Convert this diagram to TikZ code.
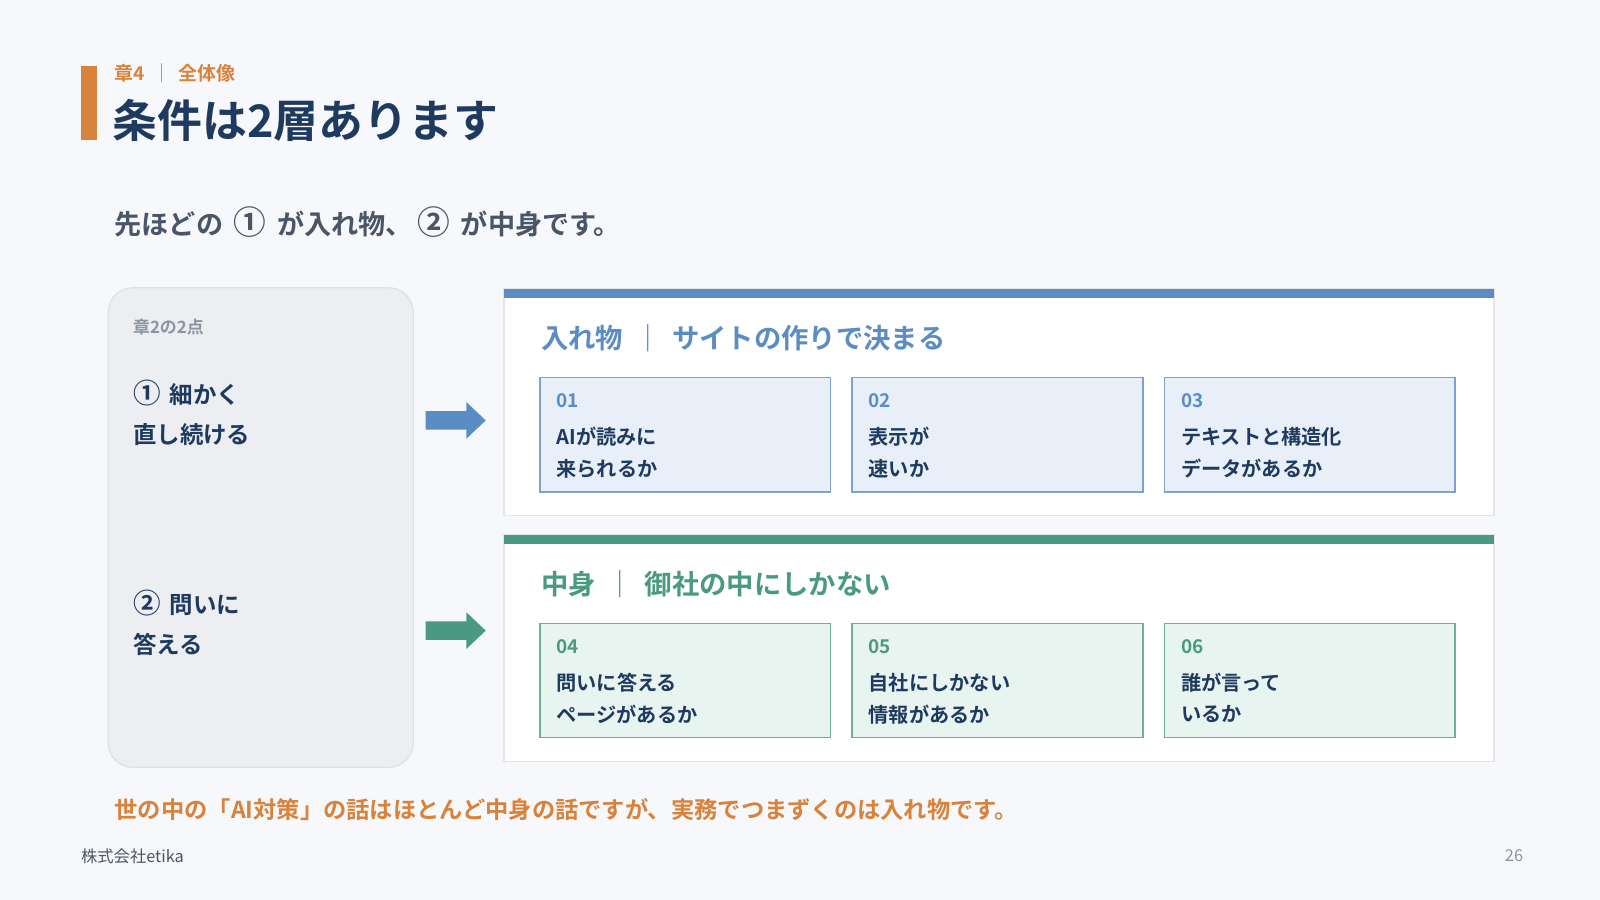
\documentclass[tikz,border=0pt]{standalone}
\usepackage{fontspec}
\setmainfont{Noto Sans CJK JP}[BoldFont={Noto Sans CJK JP Bold}]
\definecolor{bg}{HTML}{F6F8FB}
\definecolor{navy}{HTML}{1F3A5F}
\definecolor{org}{HTML}{D9823B}
\definecolor{gry}{HTML}{4A5568}
\definecolor{lgry}{HTML}{8A94A3}
\definecolor{blu}{HTML}{5B8CC4}
\definecolor{grn}{HTML}{4A9A82}
\definecolor{bfill}{HTML}{E8EFF8}
\definecolor{gfill}{HTML}{E8F4F0}
\newcommand{\cn}[1]{\,{\fontsize{16}{16}\selectfont #1}\,}
\newcommand{\cnl}[1]{{\fontsize{13.5}{13}\selectfont #1}\,}
\tikzset{
 t/.style={anchor=west,inner sep=0pt,font=\bfseries},
 card/.style={draw=#1!80!white,line width=0.7pt},
}
\begin{document}
\begin{tikzpicture}[x=0.5pt,y=-0.5pt]
\fill[bg] (0,0) rectangle (1568,882);
\useasboundingbox (0,0) rectangle (1568,882);
\fill[org] (79,65) rectangle (95,137);
\node[t,text=org,font=\fontsize{9.3}{11}\selectfont\bfseries] (ch) at (112,72) {章4 \,｜\, 全体像};
\node[t,text=navy,font=\fontsize{22}{26}\selectfont\bfseries] (ti) at (110,118) {条件は2層あります};
\node[t,text=gry,font=\fontsize{13.3}{15}\selectfont\bfseries] (st) at (112,218) {先ほどの \cn{①} が入れ物、\cn{②} が中身です。};
% left panel
\draw[fill=black!4!bg,draw=black!12,line width=0.6pt,rounded corners=12pt] (106,282) rectangle (405,752);
\node[t,text=lgry,font=\fontsize{8.3}{10}\selectfont\bfseries] (lp) at (130,321) {章2の2点};
\node[t,text=navy,font=\fontsize{11.5}{13}\selectfont\bfseries] (l1) at (130,385) {\cnl{①} 細かく};
\node[t,text=navy,font=\fontsize{11.5}{13}\selectfont\bfseries] (l2) at (130,426) {直し続ける};
\node[t,text=navy,font=\fontsize{11.5}{13}\selectfont\bfseries] (l3) at (130,591) {\cnl{②} 問いに};
\node[t,text=navy,font=\fontsize{11.5}{13}\selectfont\bfseries] (l4) at (130,632) {答える};
\fill[blu] (417,403) -- (457,403) -- (457,394) -- (476,412) -- (457,430) -- (457,421) -- (417,421) -- cycle;
\fill[grn] (417,609) -- (457,609) -- (457,600) -- (476,618) -- (457,636) -- (457,627) -- (417,627) -- cycle;
% top panel
\draw[fill=white,draw=black!10,line width=0.6pt] (494,283) rectangle (1464,505);
\fill[blu] (494,283) rectangle (1464,292);
\node[t,text=blu,font=\fontsize{13.4}{15}\selectfont\bfseries] (h1) at (530,331) {入れ物 \,｜\, サイトの作りで決まる};
\draw[fill=white,draw=black!10,line width=0.6pt] (494,524) rectangle (1464,746);
\fill[grn] (494,524) rectangle (1464,533);
\node[t,text=grn,font=\fontsize{13.4}{15}\selectfont\bfseries] (h2) at (530,572) {中身 \,｜\, 御社の中にしかない};
\foreach \x/\n/\a/\b [count=\i] in {529/01/AIが読みに/来られるか,835/02/表示が/速いか,1141/03/テキストと構造化/データがあるか}{
 \draw[card=blu,fill=bfill] (\x,370) rectangle (\x+285,482);
 \node[t,text=blu,font=\fontsize{9.3}{11}\selectfont\bfseries] (n\i) at (\x+16,393) {\n};
 \node[t,text=navy,font=\fontsize{9.9}{11}\selectfont\bfseries] (a\i) at (\x+16,428) {\a};
 \node[t,text=navy,font=\fontsize{9.9}{11}\selectfont\bfseries] (b\i) at (\x+16,459) {\b};
}
\foreach \x/\n/\a/\b [count=\i] in {529/04/問いに答える/ページがあるか,835/05/自社にしかない/情報があるか,1141/06/誰が言って/いるか}{
 \draw[card=grn,fill=gfill] (\x,611) rectangle (\x+285,723);
 \node[t,text=grn,font=\fontsize{9.3}{11}\selectfont\bfseries] (m\i) at (\x+16,634) {\n};
 \node[t,text=navy,font=\fontsize{9.9}{11}\selectfont\bfseries] (c\i) at (\x+16,669) {\a};
 \node[t,text=navy,font=\fontsize{9.9}{11}\selectfont\bfseries] (d\i) at (\x+16,700) {\b};
}
\node[t,text=org,font=\fontsize{11.4}{12}\selectfont\bfseries] (ft) at (112,793) {世の中の「AI対策」の話はほとんど中身の話ですが、実務でつまずくのは入れ物です。};
\node[t,text=gry,font=\fontsize{8}{10}\selectfont] (co) at (79,839) {株式会社etika};
\node[inner sep=0pt,anchor=east,text=lgry,font=\fontsize{8}{10}\selectfont] (pg) at (1493,839) {26};
\end{tikzpicture}
\end{document}
